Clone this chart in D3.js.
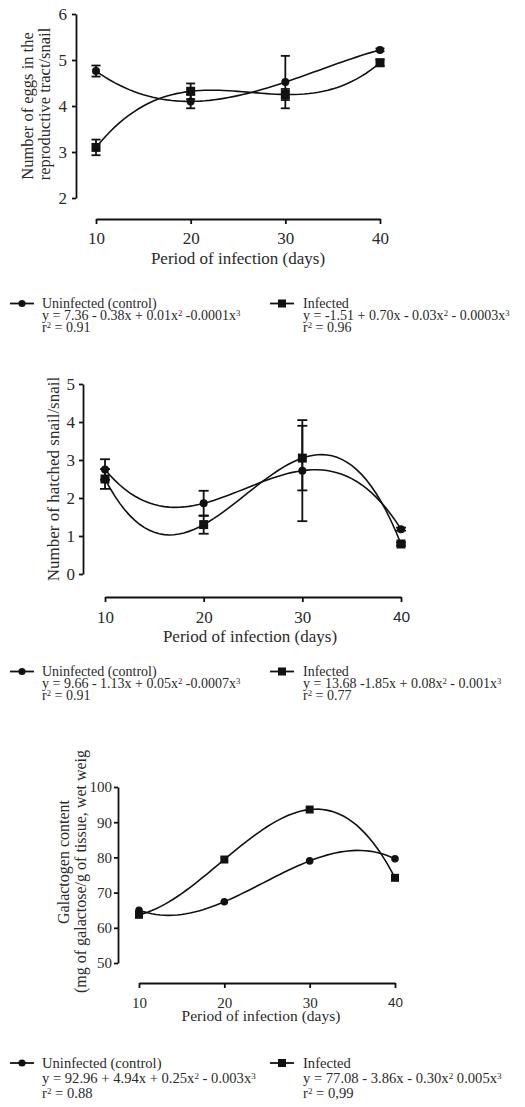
<!DOCTYPE html>
<html>
<head>
<meta charset="utf-8">
<script src="https://cdn.jsdelivr.net/npm/d3@7"></script>
<style>
body { margin: 0; background: #fff; }
svg { display: block; }
text { font-family: "Liberation Serif", "Times New Roman", serif; fill: #2a2a2a; }
</style>
</head>
<body>
<div id="chart"></div>
<script>
var days = [10, 20, 30, 40];

// eggs in the reproductive tract
var eggsControl = [4.76, 4.10, 4.52, 5.22];
var eggsControlErr = [0.12, 0.15, 0.57, 0.03];
var eggsInfected = [3.10, 4.32, 4.25, 4.94];
var eggsInfectedErr = [0.17, 0.17, 0.12, 0.07];
var eggsTicks = [2, 3, 4, 5, 6];

// hatched snails
var hatchControl = [2.75, 1.86, 2.72, 1.18];
var hatchControlErr = [0.27, 0.33, 1.33, 0.04];
var hatchInfected = [2.50, 1.30, 3.05, 0.79];
var hatchInfectedErr = [0.26, 0.24, 0.85, 0.04];
var hatchTicks = [0, 1, 2, 3, 4, 5];

// galactogen content
var galControl = [65.0, 67.4, 79.0, 79.6];
var galInfected = [63.7, 79.4, 93.6, 74.2];
var galTicks = [50, 60, 70, 80, 90, 100];

var seriesNames = ["Uninfected (control)", "Infected"];
var eggsEq = ["y = 7.36 - 0.38x + 0.01x^2 -0.0001x^3", "y = -1.51 + 0.70x - 0.03x^2 - 0.0003x^3"];
var eggsR2 = ["r^2 = 0.91", "r^2 = 0.96"];
var hatchEq = ["y = 9.66 - 1.13x + 0.05x^2 -0.0007x^3", "y = 13.68 -1.85x + 0.08x^2 - 0.001x^3"];
var hatchR2 = ["r^2 = 0.91", "r^2 = 0.77"];
var galEq = ["y = 92.96 + 4.94x + 0.25x^2 - 0.003x^3", "y = 77.08 - 3.86x - 0.30x^2 0.005x^3"];
var galR2 = ["r^2 = 0.88", "r^2 = 0,99"];

var width = 525, height = 1107;

var svg = d3.select('#chart')
  .append('svg')
  .attr('width', width)
  .attr('height', height);

// cubic through the four means (same as the least squares cubic with 4 points)
function cubicFit(xs, ys) {
  return function(x) {
    var s = 0;
    for (var i = 0; i < xs.length; i++) {
      var t = ys[i];
      for (var j = 0; j < xs.length; j++) {
        if (j !== i) t *= (x - xs[j]) / (xs[i] - xs[j]);
      }
      s += t;
    }
    return s;
  };
}

var panels = [
  {
    series: [
      {vals: eggsControl, err: eggsControlErr, shape: 'circle'},
      {vals: eggsInfected, err: eggsInfectedErr, shape: 'square'}
    ],
    yDomain: [2, 6], yRange: [198, 14], yTicks: eggsTicks, yAxisX: 76,
    xRange: [96, 380], xAxisY: 219, font: 17, yPad: 5, xPad: 8, sans40: false,
    cap: 9, r: 4, sq: 9,
    yTitle: [
      {text: 'Number of eggs in the', x: 27, y: 106, anchor: 'middle'},
      {text: 'reproductive tract/snail', x: 44, y: 104, anchor: 'middle'}
    ],
    titleFont: 16.5, xTitleY: 264, xTitleX: 238, xTitleFont: 17,
    eq: eggsEq, r2: eggsR2, legY: 303.5, legStep: 12.2, legFont: 14
  },
  {
    series: [
      {vals: hatchControl, err: hatchControlErr, shape: 'circle'},
      {vals: hatchInfected, err: hatchInfectedErr, shape: 'square'}
    ],
    yDomain: [0, 5], yRange: [574, 384], yTicks: hatchTicks, yAxisX: 83,
    xRange: [105, 401], xAxisY: 597, font: 17, yPad: 4, xPad: 9, sans40: true,
    cap: 10, r: 4, sq: 9,
    yTitle: [
      {text: 'Number of hatched snail/snail', x: 53, y: 479, anchor: 'middle'}
    ],
    titleFont: 17, xTitleY: 642, xTitleX: 250, xTitleFont: 17,
    eq: hatchEq, r2: hatchR2, legY: 671.5, legStep: 12, legFont: 14
  },
  {
    series: [
      {vals: galControl, err: null, shape: 'circle'},
      {vals: galInfected, err: null, shape: 'square'}
    ],
    yDomain: [50, 100], yRange: [963, 787], yTicks: galTicks, yAxisX: 118,
    xRange: [139, 395], xAxisY: 983, font: 15, yPad: 2, xPad: 9, sans40: true,
    cap: 0, r: 3.8, sq: 8,
    yTitle: [
      {text: 'Galactogen content', x: 63, y: 862, anchor: 'middle'},
      {text: '(mg of galactose/g of tissue, wet weig', x: 80, y: 993, anchor: 'start'}
    ],
    titleFont: 16, xTitleY: 1021, xTitleX: 261, xTitleFont: 15.5,
    eq: galEq, r2: galR2, legY: 1063, legStep: 15, legFont: 14.6
  }
];

function drawMarker(g, shape, cx, cy, r, sq) {
  if (shape === 'circle') {
    g.append('circle').attr('cx', cx).attr('cy', cy).attr('r', r).attr('fill', '#111');
  } else {
    g.append('rect').attr('x', cx - sq / 2).attr('y', cy - sq / 2)
      .attr('width', sq).attr('height', sq).attr('fill', '#111');
  }
}

// text with ^n superscripts
function richText(sel, str, size) {
  var parts = str.split(/\^(\d)/);
  parts.forEach(function(p, i) {
    if (p === '') return;
    if (i % 2 === 0) {
      sel.append('tspan').attr('font-size', size).text(p);
    } else {
      sel.append('tspan').attr('font-size', size * 0.62).attr('baseline-shift', '40%').text(p);
    }
  });
}

panels.forEach(function(p) {
  var x = d3.scaleLinear().domain([10, 40]).range(p.xRange);
  var y = d3.scaleLinear().domain(p.yDomain).range(p.yRange);
  var g = svg.append('g');

  var yAxis = g.append('g')
    .attr('transform', 'translate(' + p.yAxisX + ',0)')
    .call(d3.axisLeft(y).tickValues(p.yTicks).tickFormat(d3.format('d'))
      .tickSize(4).tickSizeOuter(0).tickPadding(p.yPad));

  var xAxis = g.append('g')
    .attr('transform', 'translate(0,' + p.xAxisY + ')')
    .call(d3.axisBottom(x).tickValues(days).tickFormat(d3.format('d'))
      .tickSize(5).tickSizeOuter(0).tickPadding(p.xPad));

  [yAxis, xAxis].forEach(function(a) {
    a.select('.domain').attr('stroke', '#111').attr('stroke-width', 1.8);
    a.selectAll('.tick line').attr('stroke', '#111').attr('stroke-width', 1.8);
    a.selectAll('.tick text')
      .attr('fill', '#2a2a2a')
      .style('font-family', '"Liberation Serif", serif')
      .style('font-size', p.font + 'px');
  });
  if (p.sans40) {
    xAxis.selectAll('.tick text').filter(function(d) { return d === 40; })
      .style('font-family', '"Liberation Sans", Arial, sans-serif')
      .style('font-size', (p.font - 1.5) + 'px');
  }

  // axis titles
  p.yTitle.forEach(function(t) {
    g.append('text')
      .attr('transform', 'translate(' + t.x + ',' + t.y + ') rotate(-90)')
      .attr('text-anchor', t.anchor)
      .attr('dy', '0.35em')
      .style('font-size', p.titleFont + 'px')
      .attr('fill', '#333')
      .text(t.text);
  });
  g.append('text')
    .attr('x', p.xTitleX)
    .attr('y', p.xTitleY)
    .attr('text-anchor', 'middle')
    .style('font-size', p.xTitleFont + 'px')
    .attr('fill', '#333')
    .text('Period of infection (days)');

  // fitted curves, error bars, points
  var line = d3.line()
    .x(function(d) { return x(d[0]); })
    .y(function(d) { return y(d[1]); });
  var samples = d3.range(10, 40.001, 0.5);

  p.series.forEach(function(s) {
    var f = cubicFit(days, s.vals);
    g.append('path')
      .datum(samples.map(function(v) { return [v, f(v)]; }))
      .attr('d', line)
      .attr('fill', 'none')
      .attr('stroke', '#111')
      .attr('stroke-width', 1.6);

    if (s.err) {
      days.forEach(function(d, i) {
        var lo = y(s.vals[i] - s.err[i]), hi = y(s.vals[i] + s.err[i]);
        g.append('line').attr('x1', x(d)).attr('x2', x(d)).attr('y1', lo).attr('y2', hi)
          .attr('stroke', '#111').attr('stroke-width', 1.8);
        [lo, hi].forEach(function(yy) {
          g.append('line').attr('x1', x(d) - p.cap / 2).attr('x2', x(d) + p.cap / 2)
            .attr('y1', yy).attr('y2', yy)
            .attr('stroke', '#111').attr('stroke-width', 1.8);
        });
      });
    }

    days.forEach(function(d, i) {
      drawMarker(g, s.shape, x(d), y(s.vals[i]), p.r, p.sq);
    });
  });

  // legend
  var legX = [10, 270];
  var textX = [42, 303];
  seriesNames.forEach(function(name, i) {
    var lg = g.append('g');
    var shape = i === 0 ? 'circle' : 'square';
    lg.append('line')
      .attr('x1', legX[i]).attr('x2', legX[i] + 24)
      .attr('y1', p.legY).attr('y2', p.legY)
      .attr('stroke', '#111').attr('stroke-width', 1.8);
    drawMarker(lg, shape, legX[i] + 12, p.legY, 3.6, 8);

    var rows = [name, p.eq[i], p.r2[i]];
    rows.forEach(function(r, k) {
      var t = lg.append('text')
        .attr('x', textX[i])
        .attr('y', p.legY + 4.5 + k * p.legStep)
        .style('font-size', p.legFont + 'px');
      richText(t, r, p.legFont);
    });
  });
});
</script>
</body>
</html>
